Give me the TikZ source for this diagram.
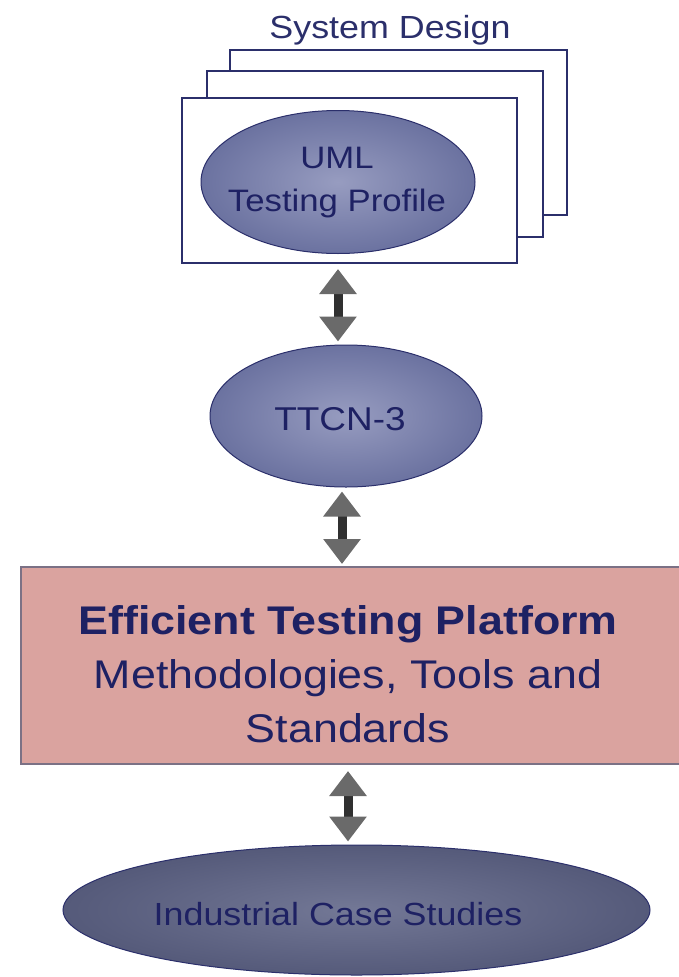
\documentclass[tikz,border=0pt]{standalone}
\usepackage{fontspec}
\setmainfont{Liberation Sans}[FakeStretch=1.12]
\usetikzlibrary{shapes.geometric,arrows.meta}
\definecolor{navy}{HTML}{1E2163}
\definecolor{framec}{HTML}{2B2F6B}
\definecolor{ellout}{HTML}{6B72A0}
\definecolor{ellin}{HTML}{979CC0}
\definecolor{darkout}{HTML}{555A7A}
\definecolor{darkin}{HTML}{737896}
\definecolor{pinkfill}{HTML}{DAA39F}
\definecolor{pinkline}{HTML}{7B7185}
\definecolor{shaftc}{HTML}{303030}
\definecolor{headc}{HTML}{6A6A6A}
\tikzset{
  sheet/.style={draw=framec, line width=2pt, fill=white},
  blueell/.style={ellipse, draw=framec, line width=1pt, inner sep=0pt,
    shading=radial, inner color=ellin, outer color=ellout},
  darkell/.style={ellipse, draw=framec, line width=1pt, inner sep=0pt,
    shading=radial, inner color=darkin, outer color=darkout},
  platbox/.style={rectangle, draw=pinkline, line width=2pt, fill=pinkfill, inner sep=0pt},
  txt/.style={text=navy, inner sep=0pt, align=center},
  dblarrow/.style={draw=shaftc, line width=9pt,
    {Triangle[width=36pt,length=25pt,color=headc]}-{Triangle[width=36pt,length=25pt,color=headc]}},
}
\begin{document}
\begin{tikzpicture}[x=1pt,y=-1pt]
\useasboundingbox (0,0) rectangle (678,977);
% stacked sheets
\draw[sheet] (230,50) rectangle (567,215);
\draw[sheet] (207,71) rectangle (543,237);
\node[sheet, rectangle, minimum width=335pt, minimum height=165pt, inner sep=0pt] (front) at (349.5,180.5) {};
\node[txt, text=framec, anchor=base, font=\fontsize{32}{38}\selectfont] (sysdesign) at (390,38) {System Design};
% UML ellipse
\node[blueell, minimum width=274pt, minimum height=143pt] (uml) at (338,182) {};
\node[txt, font=\fontsize{31}{43}\selectfont] (umlt) at (337,183) {UML\\Testing Profile};
% TTCN-3
\node[blueell, minimum width=272pt, minimum height=142pt] (ttcn) at (346,416) {};
\node[txt, anchor=base, font=\fontsize{33}{40}\selectfont] (ttcnt) at (340,430) {TTCN-3};
% platform box
\node[platbox, minimum width=661pt, minimum height=197pt] (plat) at (351.5,665.5) {};
\node[txt, font=\fontsize{40}{54}\selectfont] (platt) at (348,674.5)
  {\textbf{Efficient Testing Platform}\\Methodologies, Tools and\\Standards};
% industrial case studies
\node[darkell, minimum width=587pt, minimum height=130pt] (ind) at (356.5,910) {};
\node[txt, anchor=base, font=\fontsize{32}{38}\selectfont] (indt) at (338,925) {Industrial Case Studies};
% double arrows
\draw[dblarrow, shorten <=5pt, shorten >=3pt] (uml.center |- front.south) -- (uml.center |- ttcn.north);
\draw[dblarrow, shorten <=4pt, shorten >=2pt] ([xshift=-4pt]ttcn.south) -- ([xshift=-4pt]ttcn.south |- plat.north);
\draw[dblarrow, shorten <=6pt, shorten >=3pt] (348,0 |- plat.south) -- (348,0 |- ind.north);
\end{tikzpicture}
\end{document}
